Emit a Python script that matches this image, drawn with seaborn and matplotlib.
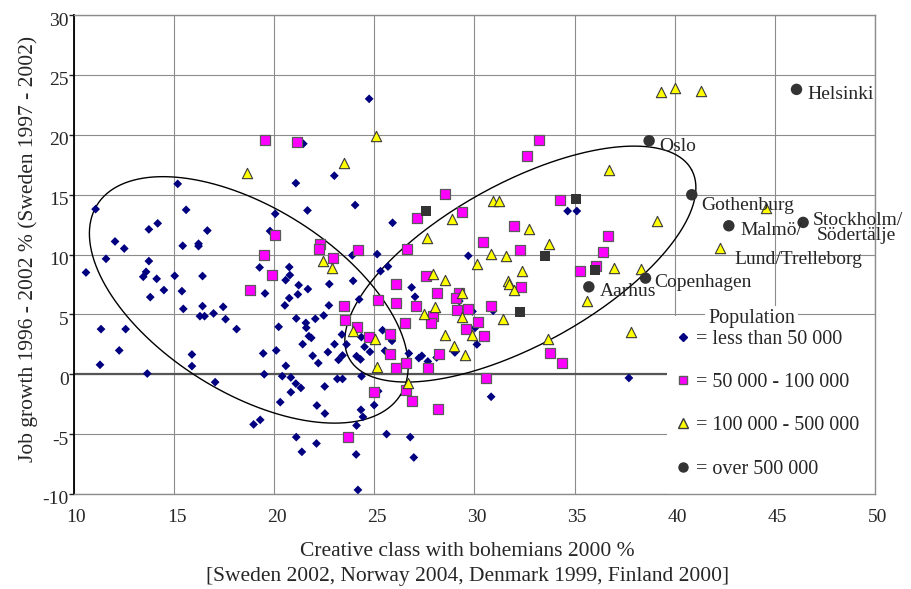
import numpy as np
import pandas as pd
import matplotlib
matplotlib.use("Agg")
import matplotlib.pyplot as plt
import matplotlib.transforms as mtransforms
import seaborn as sns
from matplotlib.lines import Line2D
from matplotlib.patches import Rectangle

# Creative class share (x, %) and job growth (y, %) by population group
small_x = [21.45, 15.18, 21.08, 23.0, 11.08, 15.6, 20.05, 21.66, 14.18, 13.74, 16.66, 19.79,
           12.05, 12.51, 15.43, 16.22, 16.22,
           11.6, 13.74, 10.6, 13.6, 13.46, 14.13, 15.03, 16.42, 19.27, 20.75, 20.78, 20.57,
           21.22, 21.68, 22.75, 14.49, 15.39, 19.54, 13.81, 21.18, 20.75, 20.53, 22.73, 15.46,
           16.42, 17.45, 16.97, 16.29, 16.52, 17.57, 18.12, 11.35, 12.58, 12.26, 11.3, 13.66,
           15.89, 15.89, 17.05, 20.22, 21.1, 21.58, 21.6, 22.05, 22.47, 21.73, 21.85, 21.42,
           23.01, 23.38, 19.45, 20.1, 21.92, 22.68, 23.21, 23.41, 22.2, 20.58, 19.5, 20.4,
           20.83, 21.08, 21.33, 20.83, 22.52, 23.15, 23.41, 20.3, 22.13, 22.53, 18.97, 19.3,
           21.1, 21.38, 22.11,
           24.74, 24.04, 25.91, 34.65, 35.11, 23.9, 25.14, 29.69, 25.31, 25.68, 23.94, 26.86,
           27.03, 24.24, 29.24, 30.93, 29.9, 24.35, 25.41, 25.88, 24.51, 24.78, 23.61, 24.11,
           24.31, 25.53, 26.72, 27.22, 27.37, 27.67, 28.11, 29.02, 30.03, 30.12, 24.36,
           25.19, 30.83, 24.99, 24.33, 24.43, 24.11, 25.61, 26.79, 24.09, 26.97, 24.18, 37.71]
small_y = [19.25, 15.9, 15.96, 16.58, 13.79, 13.73, 13.4, 13.68, 12.6, 12.1, 12.0, 11.96,
           11.09, 10.5, 10.73, 10.9, 10.7,
           9.64, 9.45, 8.5, 8.55, 8.14, 7.97, 8.22, 8.2, 8.92, 8.95, 8.28, 7.86,
           7.44, 7.11, 7.53, 7.03, 6.94, 6.75, 6.44, 6.67, 6.36, 5.75, 5.75, 5.46,
           5.69, 5.63, 5.08, 4.85, 4.85, 4.6, 3.77, 3.77, 3.77, 1.99, 0.79, 0.06,
           1.65, 0.68, -0.66, 3.96, 4.66, 4.29, 3.88, 4.63, 4.91, 3.18, 3.04, 2.51,
           2.51, 3.32, 1.74, 1.99, 1.54, 1.85, 1.2, 1.57, 0.93, 0.7, 0.0, -0.16,
           -0.27, -0.78, -1.14, -1.5, -1.02, -0.39, -0.39, -2.33, -2.61, -3.28, -4.19, -3.81,
           -5.25, -6.48, -5.78,
           23.0, 14.13, 12.65, 13.63, 13.63, 9.93, 10.03, 9.89, 8.61, 9.0, 7.8, 7.25,
           6.47, 6.25, 6.11, 5.3, 5.25, 3.1, 3.68, 2.79, 2.29, 1.87, 2.49, 1.51,
           1.24, 1.96, 1.74, 1.35, 1.54, 1.07, 1.4, 1.82, 3.88, 2.49, -0.17,
           -1.41, -1.88, -2.58, -2.97, -3.56, -4.28, -5.0, -5.25, -6.7, -6.95, -9.66, -0.31]

mid_x = [19.54, 21.12, 20.02, 22.28, 22.25, 19.47, 22.95, 19.9, 18.79, 23.46, 23.51, 23.66,
         33.2, 32.6, 28.52, 27.11, 29.39, 34.27, 31.97, 30.43, 32.27, 36.68, 36.4, 36.09,
         35.28, 24.19, 26.64, 27.6, 32.32, 26.06, 25.16, 26.06, 27.06, 28.14, 29.24, 29.06,
         30.8, 29.14, 29.67, 27.92, 27.81, 30.2, 26.51, 24.13, 24.74, 25.79, 25.78, 26.56,
         27.66, 26.08, 28.21, 29.6, 30.47, 33.78, 34.36, 30.57, 24.98, 26.59, 26.87, 28.19]
mid_y = [19.56, 19.37, 11.62, 10.9, 10.43, 9.93, 9.7, 8.3, 7.03, 5.66, 4.57, -5.23,
         19.53, 18.2, 15.05, 13.02, 13.54, 14.54, 12.37, 11.04, 10.34, 11.54, 10.23, 9.06,
         8.64, 10.37, 10.43, 8.2, 7.28, 7.53, 6.17, 5.92, 5.72, 6.8, 6.75, 6.36,
         5.66, 5.36, 5.41, 4.85, 4.24, 4.38, 4.27, 3.94, 3.07, 3.32, 1.68, 0.93,
         0.49, 0.54, 1.7, 3.74, 3.16, 1.79, 0.93, -0.35, -1.5, -1.32, -2.27, -2.89]

large_x = [18.65, 23.48, 22.45, 22.87, 25.06, 28.87, 30.9, 31.23, 32.73, 27.64, 33.7, 35.61,
           30.82, 31.55, 30.12, 27.94, 28.54, 32.37, 31.68, 31.73, 31.97, 29.36, 28.02, 27.47,
           29.39, 31.4, 23.94, 25.04, 25.11, 28.54, 29.0, 29.53, 29.87, 33.65, 26.68,
           39.31, 40.0, 41.3, 36.71, 44.55, 39.1, 42.25, 36.99, 38.31, 37.81]
large_y = [16.77, 17.64, 9.47, 8.84, 19.89, 12.96, 14.49, 14.46, 12.12, 11.34, 10.87, 6.11,
           10.06, 9.84, 9.2, 8.36, 7.86, 8.61, 7.78, 7.5, 7.05, 6.8, 5.58, 4.99,
           4.77, 4.6, 3.6, 2.96, 0.62, 3.29, 2.37, 1.57, 3.27, 2.96, -0.72,
           23.57, 23.9, 23.65, 17.05, 13.85, 12.82, 10.56, 8.84, 8.75, 3.49]

region_x = [27.57, 35.05, 33.5, 36.0, 32.28]
region_y = [13.6, 14.63, 9.87, 8.7, 5.21]

city_x = [46.08, 38.72, 40.85, 42.7, 46.41, 38.54, 35.71]
city_y = [23.79, 19.5, 14.99, 12.4, 12.68, 8.03, 7.3]
city_names = ["Helsinki", "Oslo", "Gothenburg", "Malmö/", "Stockholm/", "Copenhagen", "Aarhus"]
second_line = {"Malmö/": "Lund/Trelleborg", "Stockholm/": "Södertälje"}

legend_labels = ["= less than 50 000", "= 50 000 - 100 000",
                 "= 100 000 - 500 000", "= over 500 000"]

df = pd.concat([
    pd.DataFrame({"x": small_x, "y": small_y, "group": "small"}),
    pd.DataFrame({"x": mid_x, "y": mid_y, "group": "mid"}),
    pd.DataFrame({"x": large_x, "y": large_y, "group": "large"}),
    pd.DataFrame({"x": region_x, "y": region_y, "group": "region"}),
    pd.DataFrame({"x": city_x, "y": city_y, "group": "city"}),
], ignore_index=True)

sns.set_style("white")
plt.rcParams["font.family"] = ["Liberation Serif", "DejaVu Serif"]
plt.rcParams["axes.unicode_minus"] = False

navy, magenta, yellow, dark = "#000080", "#FF00FF", "#FFFF00", "#333333"

fig = plt.figure(figsize=(9.11, 5.89), dpi=100)
ax = fig.add_axes([0.0812, 0.1613, 0.8793, 0.8132])

sns.scatterplot(data=df[df.group == "small"], x="x", y="y", marker="D", s=20,
                color=navy, edgecolor="none", ax=ax, zorder=3)
sns.scatterplot(data=df[df.group == "mid"], x="x", y="y", marker="s", s=42,
                color=magenta, edgecolor="#5a5a5a", linewidth=0.9, ax=ax, zorder=3)
sns.scatterplot(data=df[df.group == "large"], x="x", y="y", marker="^", s=55,
                color=yellow, edgecolor="#3a3a3a", linewidth=0.8, ax=ax, zorder=3)
sns.scatterplot(data=df[df.group == "region"], x="x", y="y", marker="s", s=52,
                color=dark, edgecolor="none", ax=ax, zorder=3)
sns.scatterplot(data=df[df.group == "city"], x="x", y="y", marker="o", s=68,
                color=dark, edgecolor="none", ax=ax, zorder=3)

ax.set_xlim(10, 50)
ax.set_ylim(-10, 30)
ax.set_xticks(range(10, 51, 5))
ax.set_yticks(range(-10, 31, 5))
ax.grid(True, color="#8c8c8c", linewidth=0.8)
ax.set_axisbelow(True)
ax.axhline(0, color="#555555", linewidth=1.6, zorder=1)

for side in ["top", "right", "bottom"]:
    ax.spines[side].set_color("#8c8c8c")
    ax.spines[side].set_linewidth(1.0)
ax.spines["left"].set_color("black")
ax.spines["left"].set_linewidth(1.3)
ax.tick_params(axis="y", length=3.6, width=1, direction="out", pad=0, labelsize=14, left=True)
ax.tick_params(axis="x", length=0, pad=10.5, labelsize=14)

# Excel-like label placement: y labels sit a bit low, x labels a bit right
for lab in ax.get_yticklabels():
    lab.set_transform(lab.get_transform() + mtransforms.ScaledTranslation(0, -4 / 100, fig.dpi_scale_trans))
for lab in ax.get_xticklabels():
    lab.set_transform(lab.get_transform() + mtransforms.ScaledTranslation(2.5 / 100, 0, fig.dpi_scale_trans))

ax.set_xlabel("Creative class with bohemians 2000 %\n"
              "[Sweden 2002, Norway 2004, Denmark 1999, Finland 2000]",
              fontsize=15.5, linespacing=1.45)
ax.xaxis.set_label_coords(0.491, -0.1)
ax.set_ylabel("Job growth 1996 - 2002 % (Sweden 1997 - 2002)", fontsize=15.5)
ax.yaxis.set_label_coords(-0.045, 0.512)

# ellipses around the two clusters (defined in pixel space of the plot area)
sx = 0.8793 * 911 / 40
sy = 0.8132 * 589 / 40


def ellipse(cx, cy, a, b, angle):
    t = np.linspace(0, 2 * np.pi, 300)
    th = np.deg2rad(angle)
    u, v = a * np.cos(t), b * np.sin(t)
    return cx + (u * np.cos(th) - v * np.sin(th)) / sx, cy + (u * np.sin(th) + v * np.cos(th)) / sy


for cx, cy, a, b, ang in [(18.73, 6.21, 179, 92.5, -32.1), (32.29, 9.2, 195.5, 80.7, 28.9)]:
    ex, ey = ellipse(cx, cy, a, b, ang)
    ax.plot(ex, ey, color="black", linewidth=1.0, zorder=2)

# city labels
offsets = {"Helsinki": (7.5, -4), "Oslo": (7.5, -4), "Gothenburg": (6.5, -8),
           "Malmö/": (8.5, -3.5), "Stockholm/": (7, 1.5), "Copenhagen": (6.5, -3.5),
           "Aarhus": (8, -3.5)}
second_offsets = {"Malmö/": (4.3, -24), "Stockholm/": (10, -9.5)}
for name, cx, cy in zip(city_names, city_x, city_y):
    ax.annotate(name, (cx, cy), xytext=offsets[name], textcoords="offset points",
                fontsize=14, va="center", ha="left", zorder=4)
    if name in second_line:
        ax.annotate(second_line[name], (cx, cy), xytext=second_offsets[name],
                    textcoords="offset points", fontsize=14, va="center", ha="left", zorder=4)

# legend on a white panel
ax.add_patch(Rectangle((0.74, 0.0), 0.26, 0.3716, transform=ax.transAxes,
                       facecolor="white", edgecolor="none", zorder=1.5))
ax.text(0.7915, 0.366, "Population", transform=ax.transAxes, fontsize=14.5,
        va="center", ha="left", zorder=1.6,
        bbox=dict(facecolor="white", edgecolor="none", pad=2))
handles = [
    Line2D([], [], marker="D", ls="", color=navy, markersize=4),
    Line2D([], [], marker="s", ls="", markerfacecolor=magenta, markeredgecolor="#5a5a5a", markersize=6),
    Line2D([], [], marker="^", ls="", markerfacecolor=yellow, markeredgecolor="#3a3a3a", markersize=6.5),
    Line2D([], [], marker="o", ls="", color=dark, markersize=6.5),
]
leg = ax.legend(handles, legend_labels, loc="upper left",
                bbox_to_anchor=(0.751, 0.343), frameon=False, fontsize=14.5,
                labelspacing=1.2, handlelength=0.7, handletextpad=0.3, borderpad=0,
                borderaxespad=0)

fig.savefig("out.png", dpi=100)
